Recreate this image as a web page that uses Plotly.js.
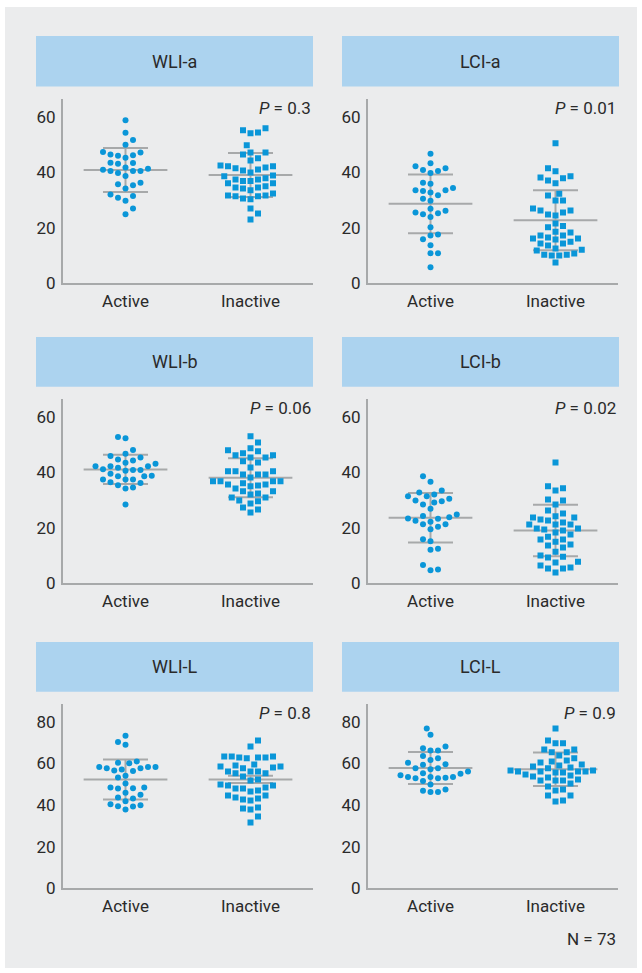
<!DOCTYPE html>
<html>
<head>
<meta charset="utf-8">
<script src="https://cdn.plot.ly/plotly-3.0.1.min.js"></script>
<style>html,body{margin:0;padding:0;background:#fff;}#chart{width:642px;height:973px;}</style>
</head>
<body>
<div id="chart"></div>
<script>
// ---------- data ----------
const panelTitles = ["WLI-a", "LCI-a", "WLI-b", "LCI-b", "WLI-L", "LCI-L"];
const categories = ["Active", "Inactive"];
const pValues = ["0.3", "0.01", "0.06", "0.02", "0.8", "0.9"];
const nTotal = 73;

const wliA_active = [58.7, 54.2, 51.6, 49.9, 47.3, 46.4, 45.9, 45.2, 46.1, 47.1, 43.3, 41.7, 43.0, 43.4,
  40.9, 40.4, 39.7, 40.4, 40.4, 41.2, 38.6, 35.7, 34.1, 35.3, 36.2, 32.0, 30.8, 29.7, 31.4, 26.9, 24.9];
const wliA_inactive = [55.1, 54.0, 54.3, 55.8, 49.7, 46.4, 47.1, 47.1, 44.2, 45.0, 42.4, 42.1, 41.7, 40.6,
  39.9, 41.0, 41.4, 42.1, 38.8, 37.8, 37.4, 36.8, 36.8, 37.4, 38.5, 36.0, 34.5, 34.1, 33.5, 34.5, 34.9, 36.0,
  32.3, 31.6, 31.3, 30.3, 30.5, 31.3, 31.6, 26.9, 25.1, 23.0];

const lciA_active = [46.6, 42.1, 40.8, 43.2, 39.7, 40.4, 41.4, 36.2, 35.8, 34.3, 33.5, 32.7, 33.2, 31.7, 33.5,
  30.4, 29.7, 26.8, 25.5, 24.9, 23.9, 25.2, 26.1, 20.2, 17.6, 17.2, 15.9, 13.7, 10.8, 10.8, 5.8];
const lciA_inactive = [50.4, 41.4, 40.3, 38.5, 37.8, 36.0, 37.0, 38.1, 32.2, 31.6, 29.8, 29.8, 26.9, 26.2, 24.8,
  24.4, 25.5, 26.2, 21.5, 20.2, 20.6, 18.3, 17.2, 16.5, 17.2, 18.6, 16.1, 16.1, 15.8, 15.0, 14.3, 13.6, 14.3,
  12.5, 11.8, 12.1, 10.3, 10.0, 10.7, 10.0, 10.3, 7.5];

const wliB_active = [52.2, 52.7, 48.0, 46.6, 45.8, 44.6, 43.4, 44.2, 45.3, 43.0, 42.1, 42.1, 41.1, 40.8, 40.5,
  40.8, 41.6, 42.1, 39.4, 38.5, 37.4, 37.4, 37.4, 38.5, 38.7, 36.1, 36.4, 35.3, 34.5, 34.1, 28.4];
const wliB_inactive = [52.9, 50.7, 48.6, 47.9, 46.8, 46.1, 45.3, 45.3, 46.1, 47.5, 43.5, 43.9, 41.7, 40.3, 40.3,
  39.2, 39.2, 39.2, 40.3, 38.1, 36.7, 36.7, 36.0, 35.6, 34.9, 35.6, 36.7, 36.7, 35.2, 34.1, 33.1, 33.1, 30.9,
  32.0, 32.3, 30.9, 29.5, 29.8, 28.7, 27.3, 26.6, 25.5];

const lciB_active = [38.5, 36.6, 33.4, 32.7, 31.3, 30.4, 29.8, 29.5, 31.3, 32.0, 29.1, 28.4, 26.8, 24.2, 23.3,
  22.5, 23.2, 23.8, 24.8, 21.3, 20.4, 19.5, 21.3, 22.2, 15.1, 15.9, 12.4, 12.1, 6.6, 4.7, 5.0];
const lciB_inactive = [43.5, 34.2, 33.4, 34.9, 29.8, 30.2, 28.4, 26.2, 24.1, 23.7, 25.1, 23.7, 21.9, 21.2, 22.6,
  23.0, 21.2, 21.2, 19.4, 19.7, 19.7, 19.0, 18.3, 17.6, 16.8, 15.8, 15.0, 15.8, 14.0, 13.6, 12.9, 11.4, 9.6,
  10.0, 9.3, 6.4, 7.8, 7.5, 5.3, 5.3, 5.7, 3.9];

const wliL_active = [73.3, 68.9, 70.2, 60.3, 60.0, 60.9, 58.2, 57.6, 57.1, 56.3, 56.6, 57.6, 58.2, 58.2, 53.2,
  54.0, 50.3, 48.4, 47.9, 48.1, 48.4, 44.9, 45.9, 43.1, 41.8, 43.6, 40.4, 39.4, 37.8, 39.3, 39.9];
const wliL_inactive = [71.0, 68.1, 63.3, 62.8, 62.8, 63.3, 62.5, 62.8, 63.3, 59.0, 58.5, 57.6, 59.5, 58.0, 58.5,
  55.2, 56.1, 56.1, 56.1, 55.2, 53.7, 51.8, 52.3, 49.4, 49.4, 47.9, 47.0, 46.5, 47.9, 48.4, 49.9, 44.6, 43.1,
  42.2, 42.6, 43.6, 44.6, 38.3, 37.8, 38.8, 34.5, 31.6];

const lciL_active = [76.8, 73.7, 68.1, 66.2, 66.2, 67.3, 63.5, 61.6, 62.5, 59.6, 59.3, 60.3, 57.7, 57.2, 57.6,
  56.1, 55.2, 54.3, 55.0, 53.5, 53.5, 52.9, 52.9, 53.1, 53.5, 51.5, 49.9, 46.8, 46.2, 46.3, 47.5];
const lciL_inactive = [76.8, 71.0, 69.6, 69.6, 66.7, 65.3, 65.3, 66.7, 63.8, 62.4, 60.9, 60.4, 61.4, 59.0, 59.5,
  58.0, 58.5, 56.6, 56.1, 56.1, 55.6, 55.6, 56.1, 56.1, 56.6, 57.6, 53.7, 53.2, 54.2, 54.7, 51.8, 51.8, 51.8,
  52.3, 50.3, 48.9, 47.5, 47.0, 44.6, 44.6, 41.7, 42.2];

// mean and error-bar half length as drawn in the reference [Active, Inactive]
const means = [[40.8, 39.0], [28.6, 22.7], [41.0, 38.0], [23.6, 19.0], [52.3, 52.3], [57.8, 57.2]];
const errs  = [[7.95, 7.95], [10.6, 10.8], [5.25, 7.05], [8.9, 9.3], [9.6, 1.7], [7.7, 8.05]];

const seriesActive = [wliA_active, lciA_active, wliB_active, lciB_active, wliL_active, lciL_active];
const seriesInactive = [wliA_inactive, lciA_inactive, wliB_inactive, lciB_inactive, wliL_inactive, lciL_inactive];

const yMaxRows = [66.5, 66.5, 88.7];
const yTicksRows = [[0, 20, 40, 60], [0, 20, 40, 60], [0, 20, 40, 60, 80]];

// ---------- layout geometry (px) ----------
const W = 642, H = 973;
const colX = [[63, 313], [368, 618]];
const rowY = [[98.6, 283.3], [398.6, 583.3], [703.6, 888.3]];   // top, bottom
const headY = [[36, 86.5], [337, 386.7], [642, 691.7]];
const headX = [[36, 313], [342, 619]];

const BLUE = "#0a96d8";
const GREY = "#a7a9aa";
const TXT = "#2a2a2a";
const FONT = "Roboto, 'Open Sans', sans-serif";
const HFONT = "'Liberation Sans Narrow', Roboto, sans-serif";

// simple beeswarm: offsets in px computed from values only
function swarm(values, pxPerUnit) {
  const D = 7.4, step = 3.75;
  const order = values.map((v, i) => i).sort((a, b) => values[a] - values[b]);
  const placed = [], off = new Array(values.length);
  let flip = 1;
  for (const i of order) {
    const py = values[i] * pxPerUnit;
    let chosen = null;
    for (let k = 0; k < 60 && chosen === null; k++) {
      const cands = k === 0 ? [0] : [flip * k * step, -flip * k * step];
      for (const c of cands) {
        if (placed.every(p => (p.x - c) ** 2 + (p.y - py) ** 2 >= D * D)) { chosen = c; break; }
      }
    }
    if (chosen !== 0) flip = chosen > 0 ? -1 : 1;
    placed.push({ x: chosen, y: py });
    off[i] = chosen;
  }
  return off;
}

const traces = [], shapes = [], annotations = [];
const layout = {
  width: W, height: H, margin: { l: 0, r: 0, t: 0, b: 0 },
  paper_bgcolor: "#ffffff", plot_bgcolor: "rgba(0,0,0,0)",
  showlegend: false, font: { family: FONT, color: TXT, size: 17 }
};

// grey panel background
shapes.push({ type: "rect", xref: "paper", yref: "paper", x0: 5 / W, x1: 637 / W, y0: 1 - 968 / H, y1: 1 - 7 / H,
  fillcolor: "#ebeced", line: { width: 0 }, layer: "below" });

for (let p = 0; p < 6; p++) {
  const r = Math.floor(p / 2), c = p % 2;
  const ax = p === 0 ? "" : String(p + 1);
  const xa = "xaxis" + ax, ya = "yaxis" + ax;
  const xr = "x" + ax, yr = "y" + ax;
  const xpx = colX[c], ypx = rowY[r];
  const yMax = yMaxRows[r];
  const pxPerY = (ypx[1] - ypx[0]) / yMax;
  const pxPerX = (xpx[1] - xpx[0]) / 2;

  layout[xa] = {
    domain: [xpx[0] / W, xpx[1] / W], range: [-0.5, 1.5], anchor: yr,
    showline: true, linecolor: GREY, linewidth: 2, showgrid: false, zeroline: false,
    tickvals: [0, 1], ticktext: categories, ticks: "", ticklabelstandoff: 1,
    tickfont: { size: 17, color: TXT, family: FONT }, fixedrange: true
  };
  layout[ya] = {
    domain: [1 - ypx[1] / H, 1 - ypx[0] / H], range: [0, yMax], anchor: xr,
    showline: true, linecolor: GREY, linewidth: 2, showgrid: false, zeroline: false,
    tickvals: yTicksRows[r], ticks: "", ticklabelstandoff: 2,
    tickfont: { size: 17, color: TXT, family: FONT }, fixedrange: true
  };

  // mean / error lines
  for (let g = 0; g < 2; g++) {
    const m = means[p][g], e = errs[p][g];
    const lineStyle = { color: GREY, width: 2 };
    traces.push({ x: [g - 0.335, g + 0.335], y: [m, m], xaxis: xr, yaxis: yr, mode: "lines", line: lineStyle, hoverinfo: "skip" });
    traces.push({ x: [g - 0.18, g + 0.18, null, g - 0.18, g + 0.18, null, g, g], y: [m + e, m + e, null, m - e, m - e, null, m - e, m + e],
      xaxis: xr, yaxis: yr, mode: "lines", line: lineStyle, hoverinfo: "skip" });
  }

  // points
  const groups = [seriesActive[p], seriesInactive[p]];
  groups.forEach((vals, g) => {
    const off = swarm(vals, pxPerY);
    traces.push({
      x: off.map(o => g + o / pxPerX), y: vals, xaxis: xr, yaxis: yr, mode: "markers", type: "scatter",
      marker: { color: BLUE, size: 6, symbol: g === 0 ? "circle" : "square", line: { width: 0 } },
      name: categories[g]
    });
  });

  // header box
  const hx = headX[c], hy = headY[r];
  shapes.push({ type: "rect", xref: "paper", yref: "paper", x0: hx[0] / W, x1: hx[1] / W, y0: 1 - hy[1] / H, y1: 1 - hy[0] / H,
    fillcolor: "#acd3ef", line: { width: 0 }, layer: "below" });
  annotations.push({ xref: "paper", yref: "paper", x: (hx[0] + hx[1]) / 2 / W, y: 1 - (hy[0] + hy[1]) / 2 / H,
    text: panelTitles[p], showarrow: false, xanchor: "center", yanchor: "middle",
    font: { size: 18, color: TXT, family: HFONT } });

  // p value
  annotations.push({ xref: "paper", yref: "paper", x: (xpx[1] - 0) / W, y: 1 - (ypx[0] + 9) / H,
    text: "<i>P</i> = " + pValues[p], showarrow: false, xanchor: "right", yanchor: "middle",
    font: { size: 17, color: TXT, family: FONT } });
}

annotations.push({ xref: "paper", yref: "paper", x: 618 / W, y: 1 - 939 / H, text: "N = " + nTotal,
  showarrow: false, xanchor: "right", yanchor: "middle", font: { size: 17, color: TXT, family: FONT } });

layout.shapes = shapes;
layout.annotations = annotations;

Plotly.newPlot("chart", traces, layout, { staticPlot: true, displayModeBar: false });
</script>
</body>
</html>
